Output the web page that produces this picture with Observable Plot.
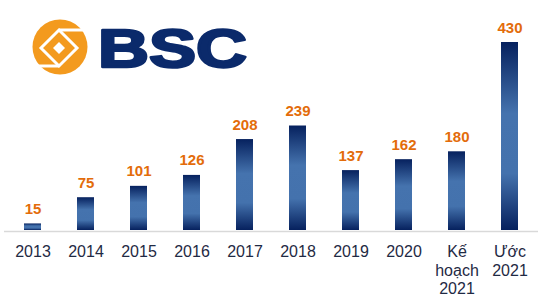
<!DOCTYPE html>
<html>
<head>
<meta charset="utf-8">
<script src="https://cdn.jsdelivr.net/npm/d3@7"></script>
<script src="https://cdn.jsdelivr.net/npm/@observablehq/plot@0.6"></script>
<style>
  body { margin: 0; background: #fff; }
  #wrap { position: relative; width: 539px; height: 301px; }
  #logo { position: absolute; left: 0; top: 0; }
</style>
</head>
<body>
<div id="wrap">
  <div id="chart"></div>
  <svg id="logo" width="260" height="80" xmlns="http://www.w3.org/2000/svg">
    <circle cx="60" cy="47" r="27.5" fill="#f39a1e"/>
    <g fill="none" stroke="#fff" stroke-width="3">
      <path d="M59,30 L77,48 L59,66 L41,48 Z"/>
      <path d="M59,30 L86,30"/>
      <path d="M59,66 L33,66"/>
    </g>
    <path d="M59,42 L65,48 L59,54 L53,48 Z" fill="#fff"/>
    <text x="98" y="67" font-family="Liberation Sans, Arial, sans-serif" font-weight="bold" font-size="54" fill="#0b2a6b" stroke="#0b2a6b" stroke-width="2.5" stroke-linejoin="round" textLength="149" lengthAdjust="spacingAndGlyphs">BSC</text>
  </svg>
</div>
<script>
const categories = ["2013", "2014", "2015", "2016", "2017", "2018", "2019", "2020", "Kế hoạch 2021", "Ước 2021"];
const values = [15, 75, 101, 126, 208, 239, 137, 162, 180, 430];
const tickLabels = ["2013", "2014", "2015", "2016", "2017", "2018", "2019", "2020", "Kế\nhoạch\n2021", "Ước\n2021"];

const data = categories.map((c, i) => ({category: c, value: values[i], label: tickLabels[i]}));
const labelOf = new Map(categories.map((c, i) => [c, tickLabels[i]]));

const chart = Plot.plot({
  width: 539,
  height: 301,
  marginLeft: 4,
  marginRight: 1,
  marginTop: 42,
  marginBottom: 71,
  style: {background: "transparent", overflow: "visible"},
  x: {domain: categories, paddingInner: 0.68, paddingOuter: 0.34, axis: null, label: null},
  y: {domain: [0, 430], axis: null, label: null},
  marks: [
    () => {
      const svg = d3.create("svg:defs");
      const g = svg.append("linearGradient").attr("id", "barGrad").attr("x1", 0).attr("y1", 0).attr("x2", 0).attr("y2", 1);
      g.append("stop").attr("offset", "0").attr("stop-color", "#06215e");
      g.append("stop").attr("offset", "0.38").attr("stop-color", "#4573ae");
      g.append("stop").attr("offset", "0.7").attr("stop-color", "#4472ad");
      g.append("stop").attr("offset", "1").attr("stop-color", "#06215e");
      return svg.node();
    },
    Plot.ruleY([0], {stroke: "#d9d9d9", strokeWidth: 1.5, dy: 1}),
    Plot.barY(data, {x: "category", y: "value", fill: "url(#barGrad)"}),
    Plot.text(data, {
      x: "category", y: "value", text: d => String(d.value),
      lineAnchor: "bottom", dy: -10,
      fill: "#e36c0a", fontSize: 15, fontWeight: "bold",
      fontFamily: "Liberation Sans, Arial, sans-serif"
    }),
    Plot.axisX({
      tickSize: 0, tickPadding: 13.5, label: null,
      tickFormat: d => labelOf.get(d),
      fontSize: 16, lineHeight: 1.16,
      fill: "#1f2a44",
      fontFamily: "Liberation Sans, Arial, sans-serif"
    })
  ]
});
chart.style.fontFamily = "Liberation Sans, Arial, sans-serif";
document.getElementById("chart").appendChild(chart);
</script>
</body>
</html>
